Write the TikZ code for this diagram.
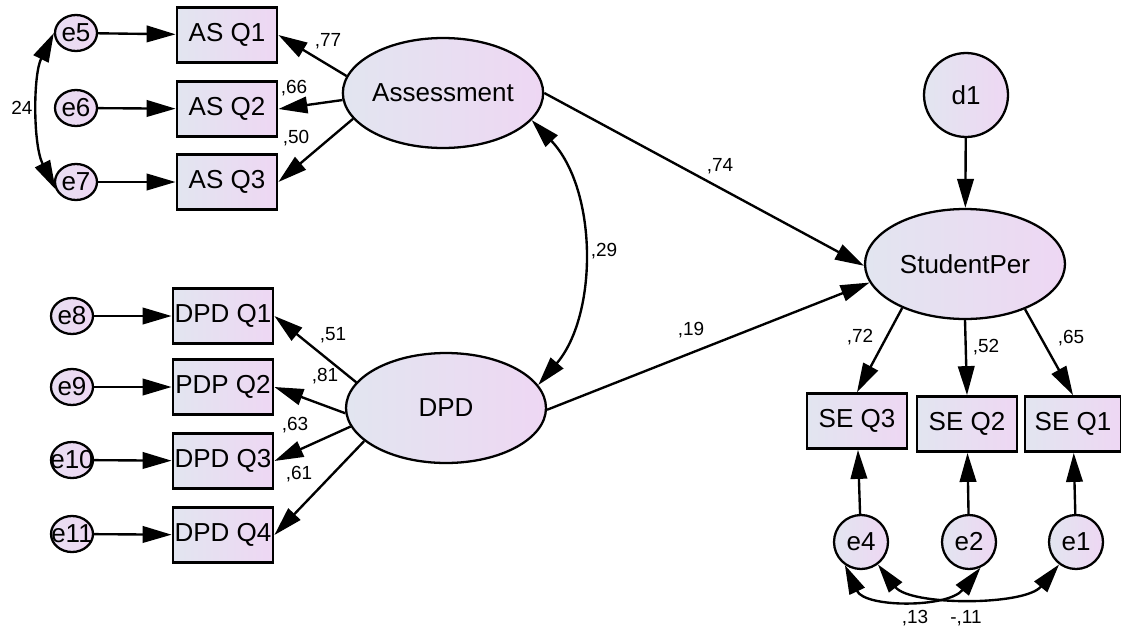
\documentclass[tikz,border=0pt]{standalone}
\usepackage{fontspec}
\setmainfont{Liberation Sans}
\usetikzlibrary{arrows.meta,shapes.geometric}
\definecolor{fillL}{RGB}{226,229,240}
\definecolor{fillR}{RGB}{238,215,243}

\begin{document}
\begin{tikzpicture}[x=0.02cm,y=-0.02cm,
	>={Triangle[length=5.8mm,width=3.3mm]},
	every node/.style={font=\fontsize{14.8}{17}\selectfont},
	latent/.style={ellipse,draw,line width=1.3pt,left color=fillL,right color=fillR,minimum width=4cm,minimum height=2.2cm,inner sep=0pt},
	item/.style={rectangle,draw,line width=1.6pt,left color=fillL,right color=fillR,minimum width=2cm,minimum height=1.1cm,inner sep=0pt},
	errl/.style={ellipse,draw,line width=1.3pt,left color=fillL!50!fillR,right color=fillR,minimum width=0.84cm,minimum height=0.72cm,inner sep=0pt},
	errr/.style={circle,draw,line width=1.3pt,left color=fillL,right color=fillR,minimum size=1.08cm,inner sep=0pt},
	wt/.style={font=\fontsize{10.8}{13}\selectfont,inner sep=0pt},
	link/.style={->,line width=1.35pt}]
	\useasboundingbox (0,0) rectangle (1121,632);
	\node[errl] (e5) at (76,33) {e5};
	\node[errl] (e6) at (76,108) {e6};
	\node[errl] (e7) at (76,182) {e7};
	\node[item] (asq1) at (227,35) {AS Q1};
	\node[item] (asq2) at (227,109) {AS Q2};
	\node[item] (asq3) at (227,182) {AS Q3};
	\node[errl] (e8) at (72,316) {e8};
	\node[errl] (e9) at (72,387) {e9};
	\node[errl] (e10) at (72,460) {\makebox[0pt]{e10}};
	\node[errl] (e11) at (72,534) {\makebox[0pt]{e11}};
	\node[item] (dpdq1) at (223,316) {DPD Q1};
	\node[item] (pdpq2) at (223,387) {PDP Q2};
	\node[item] (dpdq3) at (223,461) {DPD Q3};
	\node[item] (dpdq4) at (223,535) {DPD Q4};
	\node[latent] (assess) at (443,93) {Assessment};
	\node[latent] (dpd) at (446,408) {DPD};
	\node[latent] (stper) at (965,264) {StudentPer};
	\node[errr,minimum size=1.68cm] (d1) at (966,95) {d1};
	\node[item] (seq3) at (857,421) {SE Q3};
	\node[item] (seq2) at (967,424) {SE Q2};
	\node[item,minimum width=1.92cm] (seq1) at (1073,424) {SE Q1};
	\node[errr] (e4) at (861,542) {e4};
	\node[errr] (e2) at (969,542) {e2};
	\node[errr] (e1) at (1076,542) {e1};

	\foreach \e/\q in {e5/asq1,e6/asq2,e7/asq3,e8/dpdq1,e9/pdpq2,e10/dpdq3,e11/dpdq4,e4/seq3,e2/seq2,e1/seq1}
		\draw[link] (\e) -- (\q);
	\draw[link] (d1) -- (stper);
	\draw[link] (assess.170) -- (asq1.east);
	\draw[link] (assess.184) -- (asq2.east);
	\draw[link] (assess.196) -- (asq3.east);
	\draw[link] (dpd.164) -- (dpdq1.east);
	\draw[link] (dpd.183) -- (pdpq2.east);
	\draw[link] (dpd.191) -- (dpdq3.east);
	\draw[link] (dpd.202) -- (dpdq4.east);
	\draw[link] (assess.0) -- (stper.181);
	\draw[link] (dpd.-1) -- (stper.191);
	\draw[link] (stper.215) -- (seq3.north);
	\draw[link] (stper.south) -- (seq2.north);
	\draw[link] (stper.-37) -- (seq1.north);
	\draw[<->,line width=1.35pt] (e5.180) .. controls (33,75) and (33,145) .. (e7.200);
	\draw[<->,line width=1.35pt] (assess.-17) .. controls (598,190) and (598,315) .. (dpd.14);
	\draw[<->,line width=1.35pt] (e4.235) .. controls (865,608) and (948,608) .. (e2.294);
	\draw[<->,line width=1.35pt] (e4.307) .. controls (910,606) and (1025,606) .. (e1.233);

	\node[wt] (w24) at (22,108) {24};
	\node[wt] (w77) at (328,41) {,77};
	\node[wt] (w66) at (294,88) {,66};
	\node[wt] (w50) at (296,138) {,50};
	\node[wt] (w51) at (333,335) {,51};
	\node[wt] (w81) at (325,376) {,81};
	\node[wt] (w63) at (295,425) {,63};
	\node[wt] (w61) at (299,474) {,61};
	\node[wt] (w74) at (720,166) {,74};
	\node[wt] (w19) at (691,330) {,19};
	\node[wt] (w29) at (604,251) {,29};
	\node[wt] (w72) at (860,337) {,72};
	\node[wt] (w52) at (986,347) {,52};
	\node[wt] (w65) at (1071,338) {,65};
	\node[wt] (w13) at (915,618) {,13};
	\node[wt] (w11) at (966,618) {-,11};
\end{tikzpicture}
\end{document}
